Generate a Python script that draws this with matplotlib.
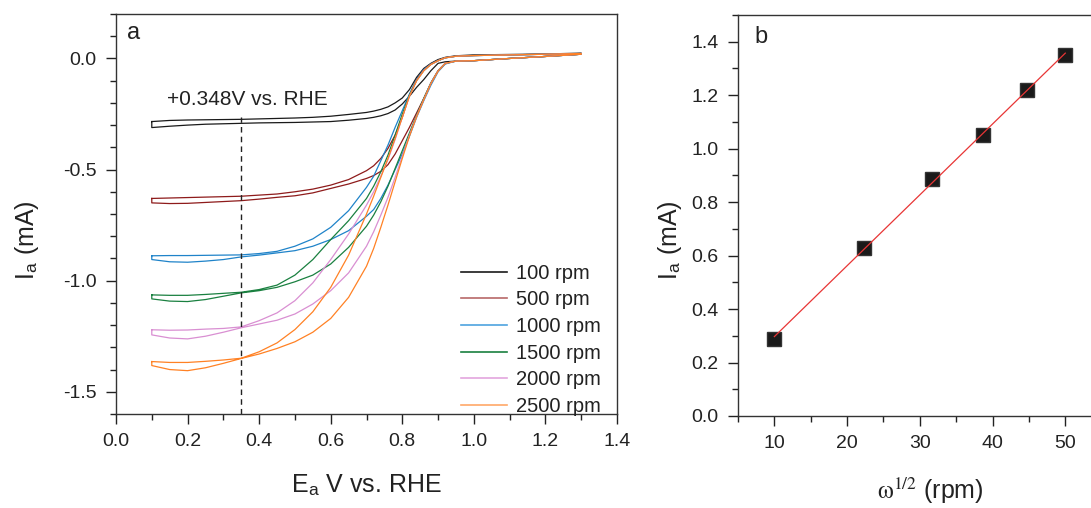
import numpy as np
import matplotlib
matplotlib.use("Agg")
import matplotlib.pyplot as plt
from matplotlib.ticker import MultipleLocator
from matplotlib.lines import Line2D

plt.rcParams['font.family'] = ['Liberation Sans', 'DejaVu Sans']
plt.rcParams['mathtext.fontset'] = 'stix'

# ---------------- data: panel a (two scan branches per rotation rate) ----------------
V = [0.10, 0.15, 0.20, 0.25, 0.30, 0.35, 0.40, 0.45, 0.50, 0.55, 0.60, 0.65, 0.70, 0.72,
     0.74, 0.76, 0.78, 0.80, 0.82, 0.84, 0.86, 0.88, 0.90, 0.92, 0.95, 1.00, 1.10, 1.20, 1.30]

rpm_labels = ['100 rpm', '500 rpm', '1000 rpm', '1500 rpm', '2000 rpm', '2500 rpm']

i100_fwd = [-0.284, -0.279, -0.277, -0.276, -0.275, -0.274, -0.272, -0.270, -0.268, -0.265, -0.260,
            -0.252, -0.243, -0.237, -0.229, -0.218, -0.200, -0.178, -0.140, -0.085, -0.045, -0.022,
            -0.005, 0.005, 0.012, 0.016, 0.018, 0.020, 0.024]
i100_rev = [-0.311, -0.305, -0.300, -0.296, -0.294, -0.292, -0.290, -0.289, -0.288, -0.286, -0.284,
            -0.278, -0.270, -0.265, -0.258, -0.248, -0.232, -0.205, -0.170, -0.130, -0.095, -0.055,
            -0.022, -0.015, -0.012, -0.010, 0.000, 0.009, 0.019]

i500_fwd = [-0.630, -0.628, -0.626, -0.624, -0.622, -0.620, -0.615, -0.610, -0.600, -0.588, -0.570,
            -0.545, -0.505, -0.483, -0.450, -0.405, -0.345, -0.265, -0.165, -0.095, -0.050, -0.025,
            -0.010, 0.003, 0.010, 0.013, 0.016, 0.019, 0.022]
i500_rev = [-0.650, -0.653, -0.652, -0.648, -0.644, -0.640, -0.633, -0.625, -0.618, -0.605, -0.585,
            -0.565, -0.540, -0.527, -0.508, -0.478, -0.430, -0.370, -0.310, -0.245, -0.180, -0.110,
            -0.055, -0.022, -0.012, -0.010, 0.000, 0.009, 0.019]

i1000_fwd = [-0.888, -0.887, -0.887, -0.886, -0.885, -0.884, -0.878, -0.868, -0.845, -0.812, -0.760,
             -0.685, -0.580, -0.530, -0.460, -0.390, -0.310, -0.235, -0.160, -0.095, -0.050, -0.025,
             -0.010, 0.003, 0.010, 0.013, 0.016, 0.019, 0.022]
i1000_rev = [-0.905, -0.915, -0.917, -0.912, -0.905, -0.893, -0.885, -0.875, -0.865, -0.845, -0.815,
             -0.775, -0.710, -0.680, -0.630, -0.570, -0.500, -0.430, -0.350, -0.265, -0.190, -0.120,
             -0.060, -0.025, -0.012, -0.010, 0.000, 0.009, 0.019]

i1500_fwd = [-1.064, -1.066, -1.066, -1.062, -1.057, -1.052, -1.040, -1.020, -0.975, -0.905, -0.815,
             -0.730, -0.630, -0.575, -0.510, -0.435, -0.345, -0.250, -0.165, -0.100, -0.055, -0.027,
             -0.010, 0.003, 0.010, 0.013, 0.016, 0.019, 0.022]
i1500_rev = [-1.082, -1.092, -1.094, -1.085, -1.070, -1.055, -1.045, -1.030, -1.005, -0.975, -0.925,
             -0.850, -0.755, -0.705, -0.645, -0.575, -0.495, -0.415, -0.335, -0.255, -0.180, -0.110,
             -0.055, -0.022, -0.012, -0.010, 0.000, 0.009, 0.019]

i2000_fwd = [-1.221, -1.223, -1.222, -1.218, -1.215, -1.208, -1.180, -1.145, -1.090, -1.010, -0.905,
             -0.790, -0.660, -0.600, -0.530, -0.455, -0.365, -0.265, -0.170, -0.100, -0.055, -0.027,
             -0.010, 0.003, 0.010, 0.013, 0.016, 0.019, 0.022]
i2000_rev = [-1.244, -1.258, -1.262, -1.250, -1.232, -1.212, -1.195, -1.178, -1.150, -1.105, -1.045,
             -0.965, -0.845, -0.780, -0.705, -0.625, -0.535, -0.440, -0.345, -0.260, -0.185, -0.112,
             -0.056, -0.022, -0.012, -0.010, 0.000, 0.009, 0.019]

i2500_fwd = [-1.364, -1.368, -1.368, -1.363, -1.357, -1.349, -1.320, -1.280, -1.220, -1.140, -1.030,
             -0.885, -0.700, -0.620, -0.535, -0.450, -0.360, -0.265, -0.170, -0.100, -0.055, -0.027,
             -0.010, 0.003, 0.010, 0.013, 0.016, 0.019, 0.022]
i2500_rev = [-1.382, -1.400, -1.405, -1.392, -1.372, -1.350, -1.330, -1.305, -1.275, -1.232, -1.170,
             -1.075, -0.935, -0.855, -0.760, -0.660, -0.555, -0.450, -0.350, -0.262, -0.186, -0.113,
             -0.057, -0.022, -0.012, -0.010, 0.000, 0.009, 0.019]

fwd_branches = [i100_fwd, i500_fwd, i1000_fwd, i1500_fwd, i2000_fwd, i2500_fwd]
rev_branches = [i100_rev, i500_rev, i1000_rev, i1500_rev, i2000_rev, i2500_rev]
curve_colors = ['#1a1a1a', '#8e1b1b', '#1f83c9', '#1a8040', '#d98fd2', '#ff8124']
legend_colors = ['#1a1a1a', '#b76868', '#4ea3df', '#1a8040', '#e3a6de', '#ffa868']

E_marker = 0.348
E_marker_top = -0.265

# ---------------- data: panel b ----------------
omega_sqrt = [10.0, 22.36, 31.62, 38.73, 44.72, 50.0]
i_limit = [0.287, 0.630, 0.888, 1.051, 1.219, 1.350]

# ---------------- figure ----------------
W, H = 1091, 508
fig = plt.figure(figsize=(W / 100, H / 100), dpi=100)

axa = fig.add_axes([116 / W, 1 - 414 / H, 501 / W, 400 / H])
axb = fig.add_axes([738 / W, 1 - 416 / H, 360 / W, 401 / H])

TXT = '#222222'
TICK_FS = 14
LABEL_FS = 18

# ---- panel a ----
for f, r, c in zip(fwd_branches, rev_branches, curve_colors):
    xs = list(V) + list(V[::-1]) + [V[0]]
    ys = list(f) + list(r[::-1]) + [f[0]]
    axa.plot(xs, ys, color=c, lw=0.9)

axa.plot([E_marker, E_marker], [-1.6, E_marker_top], color='#222222', lw=1.0,
         ls=(0, (4, 3)))
axa.text(0.143, -0.184, '+0.348V vs. RHE', fontsize=15, color=TXT,
         va='center', ha='left')
axa.text(0.022, 0.952, 'a', transform=axa.transAxes, fontsize=17, color=TXT,
         va='center', ha='left')

axa.set_xlim(0.0, 1.4)
axa.set_ylim(-1.6, 0.2)
axa.xaxis.set_minor_locator(MultipleLocator(0.1))
axa.yaxis.set_minor_locator(MultipleLocator(0.1))
axa.set_yticks([0.0, -0.5, -1.0, -1.5])
axa.set_yticklabels(['0.0', '-0.5', '-1.0', '-1.5'])
axa.set_xticks([0.0, 0.2, 0.4, 0.6, 0.8, 1.0, 1.2, 1.4])
axa.set_xticklabels(['0.0', '0.2', '0.4', '0.6', '0.8', '1.0', '1.2', '1.4'])
axa.tick_params(which='both', direction='out', labelsize=TICK_FS, colors=TXT,
                width=1.0)
axa.tick_params(which='major', length=7, pad=7)
axa.tick_params(which='minor', length=4)
for s in axa.spines.values():
    s.set_color('#333333')
    s.set_linewidth(1.0)
axa.set_xlabel(r'E$_\mathregular{a}$ V vs. RHE', fontsize=LABEL_FS, color=TXT,
               labelpad=16)
axa.set_ylabel(r'I$_\mathregular{a}$ (mA)', fontsize=LABEL_FS, color=TXT)
axa.yaxis.set_label_coords(-0.15, 0.435)

handles = [Line2D([], [], color=c, lw=1.2) for c in legend_colors]
axa.legend(handles, rpm_labels, loc='lower left', bbox_to_anchor=(0.688, -0.005),
           frameon=False, fontsize=14.5, handlelength=2.3, handletextpad=0.45,
           labelspacing=0.38, borderpad=0.0, borderaxespad=0.0, labelcolor=TXT)

# ---- panel b ----
coef = np.polyfit(omega_sqrt, i_limit, 1)
fit_x = np.array([omega_sqrt[0], omega_sqrt[-1]])
axb.plot(fit_x, np.polyval(coef, fit_x), color='#e83535', lw=0.9, zorder=3)
axb.plot(omega_sqrt, i_limit, ls='none', marker='s', ms=9.5, color='#1a1a1a',
         mec='#333333', zorder=2)
axb.text(0.045, 0.945, 'b', transform=axb.transAxes, fontsize=17, color=TXT,
         va='center', ha='left')

axb.set_xlim(5, 54.5)
axb.set_ylim(0.0, 1.5)
axb.xaxis.set_minor_locator(MultipleLocator(5))
axb.yaxis.set_minor_locator(MultipleLocator(0.1))
axb.set_yticks([0.0, 0.2, 0.4, 0.6, 0.8, 1.0, 1.2, 1.4])
axb.set_yticklabels(['0.0', '0.2', '0.4', '0.6', '0.8', '1.0', '1.2', '1.4'])
axb.set_xticks([10, 20, 30, 40, 50])
axb.tick_params(which='both', direction='out', labelsize=TICK_FS, colors=TXT,
                width=1.0)
axb.tick_params(which='major', length=7, pad=7)
axb.tick_params(which='minor', length=4)
for s in axb.spines.values():
    s.set_color('#333333')
    s.set_linewidth(1.0)
axb.spines['right'].set_visible(False)
axb.set_xlabel(r'$\mathrm{\omega}^{1/2}$ (rpm)', fontsize=LABEL_FS, color=TXT)
axb.xaxis.set_label_coords(0.533, -0.148)
axb.set_ylabel(r'I$_\mathregular{a}$ (mA)', fontsize=LABEL_FS, color=TXT)
axb.yaxis.set_label_coords(-0.15, 0.439)

fig.savefig('out.png', dpi=100, facecolor='white')
